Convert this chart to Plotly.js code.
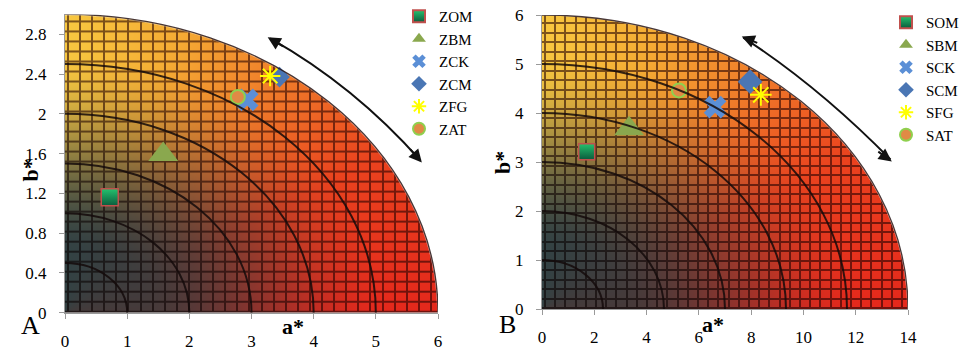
<!DOCTYPE html>
<html>
<head>
<meta charset="utf-8">
<script src="https://cdn.plot.ly/plotly-3.0.1.min.js"></script>
<style>html,body{margin:0;padding:0;background:#fff;overflow:hidden;}#chart{width:963px;height:355px;}</style>
</head>
<body>
<div id="chart"></div>
<script>
// ---------- data ----------
const seriesA = ['ZOM', 'ZBM', 'ZCK', 'ZCM', 'ZFG', 'ZAT'];
const aA = [0.72, 1.58, 2.93, 3.45, 3.30, 2.78];
const bA = [1.16, 1.59, 2.14, 2.37, 2.38, 2.17];

const seriesB = ['SOM', 'SBM', 'SCK', 'SCM', 'SFG', 'SAT'];
const aB = [1.71, 3.33, 6.62, 7.96, 8.37, 5.24];
const bB = [3.21, 3.68, 4.12, 4.64, 4.37, 4.46];

const xTicksA = [0, 1, 2, 3, 4, 5, 6];
const yTicksA = [0, 0.4, 0.8, 1.2, 1.6, 2, 2.4, 2.8];
const yTickTextA = ['0', '0.4', '0.8', '1.2', '1.6', '2', '2.4', '2.8'];
const xTicksB = [0, 2, 4, 6, 8, 10, 12, 14];
const yTicksB = [0, 1, 2, 3, 4, 5, 6];

const arcFractions = [1/6, 2/6, 3/6, 4/6, 5/6, 1];

// ---------- styles ----------
const W = 963, H = 355, MR = 40;
const PW = W - MR; // paper width in px (right margin reserved for legend overflow)
const FONT = '"Times New Roman", "Liberation Serif", "DejaVu Serif", serif';
const markerStyles = [
  {symbol: 'square', color: '#25c26e', gradient: {type: 'vertical', color: '#0b5a3c'}, line: {color: '#c0504d', width: 1.5}},
  {symbol: 'triangle-up', color: '#8aa84e', line: {width: 0}},
  {symbol: 'x', color: '#5b8fd6', line: {width: 0}},
  {symbol: 'diamond', color: '#4a76b4', line: {width: 0}},
  {symbol: 'asterisk-open', color: '#ffff00', line: {color: '#ffff00', width: 2}},
  {symbol: 'circle', color: '#e08a45', line: {color: '#8fd04e', width: 2}}
];
const sizesA = [17, 26, 20, 16, 17, 14];
const sizesB = [16, 26, 20, 19, 18, 14];

// ---------- background image (decorative colour field) ----------
function lerp(a, b, t) { return a + (b - a) * t; }
function ramp(stops, t) {
  for (let i = 1; i < stops.length; i++) {
    if (t <= stops[i][0]) {
      const s0 = stops[i-1], s1 = stops[i];
      const k = (t - s0[0]) / (s1[0] - s0[0]);
      return [lerp(s0[1], s1[1], k), lerp(s0[2], s1[2], k), lerp(s0[3], s1[3], k)];
    }
  }
  const s = stops[stops.length - 1];
  return [s[1], s[2], s[3]];
}
const brightStops = [[0, 228, 40, 28], [0.35, 234, 66, 30], [0.6, 240, 125, 42], [0.8, 245, 172, 52], [1, 248, 200, 64]];
const darkStops = [[0, 70, 58, 58], [1, 50, 66, 68]];
function smooth(e0, e1, x) { const t = Math.max(0, Math.min(1, (x - e0) / (e1 - e0))); return t * t * (3 - 2 * t); }

function makeField(pw, ph, gx, gy) {
  const c = document.createElement('canvas');
  c.width = pw; c.height = ph;
  const ctx = c.getContext('2d');
  const img = ctx.createImageData(pw, ph);
  for (let py = 0; py < ph; py++) {
    for (let px = 0; px < pw; px++) {
      const u = (px + 0.5) / pw, v = (ph - py - 0.5) / ph;
      const r = Math.sqrt(u * u + v * v);
      const idx = (py * pw + px) * 4;
      if (r > 1) { img.data[idx + 3] = 0; continue; }
      const t = Math.atan2(v, u) / (Math.PI / 2);
      const B = ramp(brightStops, t), D = ramp(darkStops, t);
      const f = smooth(0.2, 0.88, r);
      let col = [lerp(D[0], B[0], f), lerp(D[1], B[1], f), lerp(D[2], B[2], f)];
      const mx = (px - 1.5) % gx, my = (ph - py - 0.5) % gy;
      if ((mx >= 0 && mx < 2) || (my >= 0 && my < 2)) {
        col = [col[0] * 0.5, col[1] * 0.42, col[2] * 0.42];
      }
      const edge = Math.min(1, (1 - r) * pw * 0.7);
      img.data[idx] = col[0]; img.data[idx + 1] = col[1]; img.data[idx + 2] = col[2];
      img.data[idx + 3] = 255 * Math.max(0, edge);
    }
  }
  ctx.putImageData(img, 0, 0);
  return c.toDataURL('image/png');
}

// plot-area pixel geometry
const A_x0 = 65, A_x1 = 438, A_yTop = 14.4, A_yBot = 312.7;
const B_x0 = 542, B_x1 = 908, B_yTop = 15, B_yBot = 309;
const fieldA = makeField(Math.round(A_x1 - A_x0), Math.round(A_yBot - A_yTop), 12.1, 10.0);
const fieldB = makeField(Math.round(B_x1 - B_x0), Math.round(B_yBot - B_yTop), 10.2, 9.5);

// ---------- traces ----------
const traces = [];
seriesA.forEach((name, i) => {
  const m = Object.assign({}, markerStyles[i], {size: sizesA[i]});
  traces.push({type: 'scatter', mode: 'markers', name: name, x: [aA[i]], y: [bA[i]],
    xaxis: 'x', yaxis: 'y', marker: m, legend: 'legend', hoverinfo: 'skip'});
});
seriesB.forEach((name, i) => {
  const m = Object.assign({}, markerStyles[i], {size: sizesB[i]});
  traces.push({type: 'scatter', mode: 'markers', name: name, x: [aB[i]], y: [bB[i]],
    xaxis: 'x2', yaxis: 'y2', marker: m, legend: 'legend2', hoverinfo: 'skip'});
});

// ---------- shapes: concentric quarter ellipses + arrows ----------
const K = 0.5523;
function quarter(rx, ry, xref, yref, isOuter) {
  return {type: 'path', xref: xref, yref: yref, layer: 'above',
    path: `M ${rx},0 C ${rx},${K * ry} ${K * rx},${ry} 0,${ry}`,
    line: {color: isOuter ? 'rgba(40,20,20,0.85)' : 'rgba(20,10,10,0.85)', width: isOuter ? 1.3 : 2}};
}
const shapes = [];
arcFractions.forEach(f => shapes.push(quarter(6 * f, 3 * f, 'x', 'y', f === 1)));
arcFractions.forEach(f => shapes.push(quarter(14 * f, 6 * f, 'x2', 'y2', f === 1)));
// curved double arrows
shapes.push({type: 'path', xref: 'x', yref: 'y', path: 'M 3.30,2.76 Q 4.66,2.28 5.72,1.53', line: {color: '#111', width: 2}});
shapes.push({type: 'path', xref: 'x2', yref: 'y2', path: 'M 7.70,5.54 Q 10.61,4.53 13.33,3.05', line: {color: '#111', width: 2}});

function head(x, y, ax, ay, xref, yref) {
  return {x: x, y: y, xref: xref, yref: yref, ax: ax, ay: ay, text: '', showarrow: true,
    arrowhead: 2, arrowsize: 1.3, arrowwidth: 2, arrowcolor: '#111'};
}
function label(text, px, py, size, angle) {
  return {text: text, x: px / PW, y: 1 - py / H, xref: 'paper', yref: 'paper', showarrow: false,
    textangle: angle || 0, font: {family: FONT, size: size, color: '#000'}};
}

const annotations = [
  head(3.26, 2.77, 17, 10, 'x', 'y'),
  head(5.74, 1.51, -13, -15, 'x', 'y'),
  head(7.64, 5.56, 17, 7, 'x2', 'y2'),
  head(13.38, 3.01, -15, -11, 'x2', 'y2'),
  label('A', 19, 342, 26),
  label('<b>a*</b>', 280, 341, 22),
  label('<b>b*</b>', 15, 170, 22, -90),
  label('B', 507, 341, 26),
  label('<b>a*</b>', 726, 339, 22),
  label('<b>b*</b>', 502, 163, 22, -90)
];

const axisCommon = {
  showgrid: false, zeroline: false, showline: true, linecolor: '#9a9a9a', linewidth: 1,
  ticks: 'outside', ticklen: 5, tickcolor: '#9a9a9a', tickwidth: 1, automargin: false,
  tickfont: {family: FONT, size: 17, color: '#000'}, fixedrange: true
};

const legendCommon = {xanchor: 'left', yanchor: 'top', bgcolor: 'rgba(0,0,0,0)',
  font: {family: FONT, size: 15, color: '#000'}, itemsizing: 'constant', itemwidth: 30, tracegroupgap: 0};

const layout = {
  width: W, height: H,
  margin: {l: 0, r: MR, t: 0, b: 0, autoexpand: false},
  font: {family: FONT},
  paper_bgcolor: '#fff', plot_bgcolor: 'rgba(0,0,0,0)',
  showlegend: true,
  xaxis: Object.assign({}, axisCommon, {domain: [A_x0 / PW, A_x1 / PW], range: [0, 6], tickvals: xTicksA, anchor: 'y', ticklabelstandoff: 8}),
  yaxis: Object.assign({}, axisCommon, {domain: [1 - A_yBot / H, 1 - A_yTop / H], range: [0, 3], tickvals: yTicksA, ticktext: yTickTextA, anchor: 'x', ticklabelstandoff: 9}),
  xaxis2: Object.assign({}, axisCommon, {domain: [B_x0 / PW, B_x1 / PW], range: [0, 14], tickvals: xTicksB, anchor: 'y2', ticklabelstandoff: 8}),
  yaxis2: Object.assign({}, axisCommon, {domain: [1 - B_yBot / H, 1 - B_yTop / H], range: [0, 6], tickvals: yTicksB, anchor: 'x2', ticklabelstandoff: 9}),
  legend: Object.assign({}, legendCommon, {x: 399 / PW, y: 1 - 0 / H}),
  legend2: Object.assign({}, legendCommon, {x: 886 / PW, y: 1 - 6 / H}),
  images: [
    {source: fieldA, xref: 'x', yref: 'y', x: 0, y: 3, sizex: 6, sizey: 3, sizing: 'stretch', xanchor: 'left', yanchor: 'top', layer: 'below'},
    {source: fieldB, xref: 'x2', yref: 'y2', x: 0, y: 6, sizex: 14, sizey: 6, sizing: 'stretch', xanchor: 'left', yanchor: 'top', layer: 'below'}
  ],
  shapes: shapes,
  annotations: annotations
};

Plotly.newPlot('chart', traces, layout, {displayModeBar: false, staticPlot: true});
</script>
</body>
</html>
